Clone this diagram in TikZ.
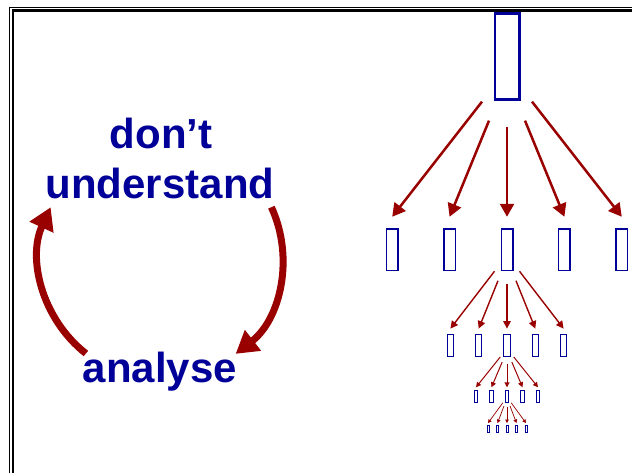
\documentclass[tikz,border=0pt]{standalone}
\usepackage{fontspec}
\setmainfont{Liberation Sans}
\usetikzlibrary{arrows.meta,calc}
\definecolor{dblue}{RGB}{0,0,153}
\definecolor{dred}{RGB}{153,0,0}
\tikzset{
  lbl/.style={font=\fontsize{42}{50}\selectfont\bfseries, text=dblue, inner sep=0pt},
  cyc/.style={draw=dred, line width=7pt, -{Triangle[length=22pt,width=25pt]}},
  bx/.style={draw=dblue, fill=white, inner sep=0pt, outer sep=0pt},
  b0/.style={bx, line width=2.7pt, minimum width=24.3pt, minimum height=86.3pt},
  b1/.style={bx, line width=1.5pt, minimum width=11.5pt, minimum height=41.5pt},
  b2/.style={bx, line width=1.2pt, minimum width=6.3pt, minimum height=21.8pt},
  b3/.style={bx, line width=1pt, minimum width=3.5pt, minimum height=12pt},
  b4/.style={bx, line width=0.8pt, minimum width=2.2pt, minimum height=7.7pt},
  a0/.style={draw=dred, line width=2.5pt, -{Triangle[length=13pt,width=14pt]}},
  a1/.style={draw=dred, line width=1.4pt, -{Triangle[length=7.5pt,width=7.5pt]}},
  a2/.style={draw=dred, line width=1pt, -{Triangle[length=5pt,width=5pt]}},
  a3/.style={draw=dred, line width=0.7pt, -{Triangle[length=3.6pt,width=3.6pt]}},
  frameA/.style={draw=black, line width=1.5pt},
  frameB/.style={draw=black, line width=2.5pt}
}
\begin{document}
\begin{tikzpicture}[x=1pt,y=-1pt]
\useasboundingbox (0,0) rectangle (632,472);
\begin{scope}
  \clip (0,0) rectangle (632,472);
  \draw[frameA] (9.5,7.5) rectangle (700,560);
  \draw[frameB] (13,10.5) rectangle (700,560);
\end{scope}

% texts
\node[lbl, anchor=base] (dont) at (161,148) {don’t};
\node[lbl, anchor=base] (und) at (160,198) {understand};
\node[lbl, anchor=base] (ana) at (160,382) {analyse};

% cycle arrows
\coordinate (rs) at (271.4,207.2);
\coordinate (ls) at (85.9,353.5);
\draw[cyc] (rs) arc[start angle=-24.7, end angle=52.1, radius=121.5];
\draw[cyc] (ls) arc[start angle=128.2, end angle=204.7, radius=121.5];

% tree of boxes
\node[b0] (n0) at (507,56.5) {};
\foreach \i in {1,...,5} {
  \node[b1] (n1-\i) at ({507+57.4*(\i-3)},249.5) {};
  \node[b2] (n2-\i) at ({507+28.3*(\i-3)},345.5) {};
  \node[b3] (n3-\i) at ({507+15.5*(\i-3)},396.5) {};
  \node[b4] (n4-\i) at ({507+9.5*(\i-3)},429) {};
}

\foreach \k/\p/\kk/\f/\aw in {0/n0/1/1/a0, 1/n1-3/2/0.5/a1, 2/n2-3/3/0.27/a2, 3/n3-3/4/0.17/a3} {
  \foreach \i/\dx/\dy in {1/-25/2, 2/-18/21, 3/0/27, 4/18/21, 5/25/2} {
    \coordinate (s\k-\i) at ($(\p.south)+(\f*\dx,\f*\dy)$);
    \draw[\aw] (s\k-\i) -- ($(n\kk-\i.north)+(0,-12*\f)$);
  }
}
\end{tikzpicture}
\end{document}
